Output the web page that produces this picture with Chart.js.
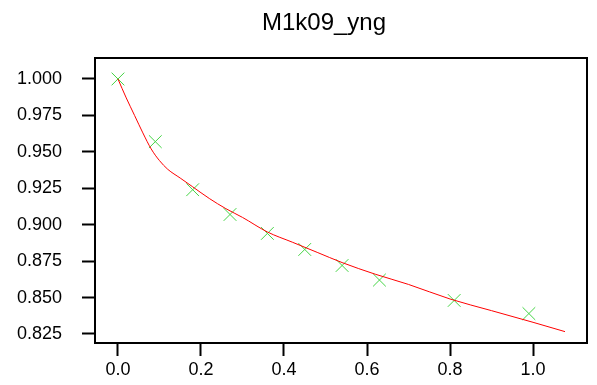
<!DOCTYPE html>
<html>
<head>
<meta charset="utf-8">
<script src="https://cdn.jsdelivr.net/npm/chart.js@4/dist/chart.umd.min.js"></script>
<style>
  html, body { margin: 0; padding: 0; background: #fff; }
  #wrap { width: 597px; height: 385px; }
</style>
</head>
<body>
<div id="wrap"><canvas id="fitChart"></canvas></div>
<script>
const chartTitle = 'M1k09_yng';

// measured points
const obsX = [0.00, 0.09, 0.18, 0.27, 0.36, 0.45, 0.54, 0.63, 0.81, 0.99];
const obsY = [1.000, 0.957, 0.924, 0.907, 0.894, 0.883, 0.872, 0.862, 0.848, 0.839];

// fitted curve
const fitX = [0.00, 0.02, 0.04, 0.06, 0.08, 0.10, 0.12, 0.15, 0.18, 0.22, 0.26, 0.30, 0.36, 0.42, 0.48, 0.54, 0.62, 0.70, 0.80, 0.90, 1.00, 1.077];
const fitY = [1.000, 0.987, 0.975, 0.963, 0.952, 0.944, 0.938, 0.932, 0.926, 0.918, 0.911, 0.905, 0.895, 0.888, 0.881, 0.874, 0.866, 0.859, 0.849, 0.841, 0.833, 0.8266];

const xTicks = [0.0, 0.2, 0.4, 0.6, 0.8, 1.0];
const yTicks = [0.825, 0.850, 0.875, 0.900, 0.925, 0.950, 0.975, 1.000];

const FONT = 'Liberation Sans, Arial, sans-serif';

// box around the plot area plus the title above it
const frame = {
    id: 'frame',
    afterDatasetsDraw(chart) {
        const a = chart.chartArea;
        const ctx = chart.ctx;
        ctx.save();
        ctx.strokeStyle = '#000';
        ctx.lineWidth = 2;
        ctx.strokeRect(a.left, a.top, a.right - a.left, a.bottom - a.top);
        ctx.fillStyle = '#000';
        ctx.font = '24px ' + FONT;
        ctx.textAlign = 'center';
        ctx.textBaseline = 'middle';
        ctx.fillText(chartTitle, 324, 23);
        ctx.restore();
    }
};

const tickGrid = {
    drawOnChartArea: false,
    drawTicks: true,
    tickLength: 13,
    tickWidth: 2,
    tickColor: '#000'
};

new Chart(document.getElementById('fitChart'), {
    type: 'scatter',
    data: {
        datasets: [
            {
                data: fitX.map((x, i) => ({ x: x, y: fitY[i] })),
                showLine: true,
                borderColor: '#ff0000',
                borderWidth: 1,
                pointRadius: 0,
                cubicInterpolationMode: 'monotone'
            },
            {
                data: obsX.map((x, i) => ({ x: x, y: obsY[i] })),
                showLine: false,
                pointStyle: 'crossRot',
                pointRadius: 9,
                pointBorderWidth: 1,
                borderColor: '#44d444',
                backgroundColor: '#44d444'
            }
        ]
    },
    options: {
        responsive: true,
        maintainAspectRatio: false,
        animation: false,
        layout: { padding: { left: 0, right: 3, top: 58, bottom: 0 } },
        plugins: {
            legend: { display: false },
            tooltip: { enabled: false },
            title: { display: false }
        },
        scales: {
            x: {
                type: 'linear',
                min: -0.0553,
                max: 1.130,
                border: { display: false },
                grid: tickGrid,
                afterBuildTicks: s => { s.ticks = xTicks.map(v => ({ value: v })); },
                afterFit: s => { s.height = 42; },
                ticks: {
                    color: '#000',
                    padding: 3,
                    maxRotation: 0,
                    font: { family: FONT, size: 18 },
                    callback: v => v.toFixed(1)
                }
            },
            y: {
                type: 'linear',
                min: 0.8188,
                max: 1.0144,
                border: { display: false },
                grid: tickGrid,
                afterBuildTicks: s => { s.ticks = yTicks.map(v => ({ value: v })); },
                afterFit: s => { s.width = 95; },
                ticks: {
                    color: '#000',
                    padding: 20,
                    font: { family: FONT, size: 18 },
                    callback: v => v.toFixed(3)
                }
            }
        }
    },
    plugins: [frame]
});
</script>
</body>
</html>
